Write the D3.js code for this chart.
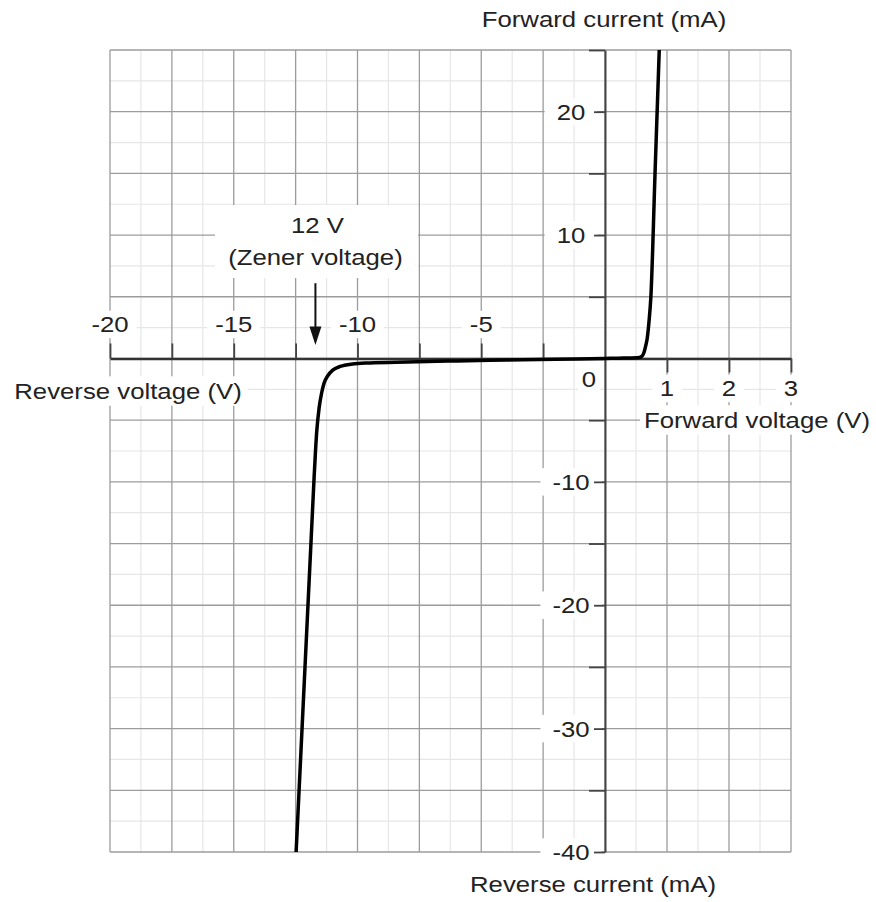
<!DOCTYPE html>
<html>
<head>
<meta charset="utf-8">
<script src="https://cdn.jsdelivr.net/npm/d3@7"></script>
<style>
  body { margin: 0; background: #fff; }
  text { font-family: "Liberation Sans", Arial, sans-serif; font-size: 23px; fill: #222; }
</style>
</head>
<body>
<div id="chart"></div>
<script>
// ---------------------------------------------------------------------------
// data (volts, milliamps), sorted by voltage
var voltage = [-12.48, -11.75, -11.65, -11.55, -11.45, -11.35, -11.2, -11.0, -10.7, -10.2, -9.5, -8, -6, -4, -2, 0,
               0.3, 0.55, 0.6, 0.63, 0.66, 0.68, 0.71, 0.74, 0.807, 0.875];
var current = [-40, -9.5, -6.0, -4.0, -2.8, -2.0, -1.4, -0.95, -0.65, -0.45, -0.36, -0.28, -0.2, -0.13, -0.06, 0,
               0.03, 0.08, 0.2, 0.5, 1.1, 1.6, 3, 5, 15, 25];

// grid and ticks
var xGridMajor = [-20, -17.5, -15, -12.5, -10, -7.5, -5, -2.5, 0, 1, 2, 3];
var xGridMinor = [-18.75, -16.25, -13.75, -11.25, -8.75, -6.25, -3.75, -1.25, 0.5, 1.5, 2.5];
var yGridMajor = [-40, -35, -30, -25, -20, -15, -10, -5, 0, 5, 10, 15, 20, 25];
var yGridMinor = [-37.5, -32.5, -27.5, -22.5, -17.5, -12.5, -7.5, -2.5, 2.5, 7.5, 12.5, 17.5, 22.5];
var xTicksNeg = [-20, -17.5, -15, -12.5, -10, -7.5, -5, -2.5];
var xTicksPos = [1, 2, 3];
var yTicks = [-40, -35, -30, -25, -20, -15, -10, -5, 5, 10, 15, 20, 25];
var xLabelsNeg = [-20, -15, -10, -5];
var xLabelsPos = [1, 2, 3];
var yLabels = [20, 10, -10, -20, -30, -40];
var zenerV = -11.7;

// ---------------------------------------------------------------------------
var width = 876, height = 902;
var stretch = 1.12;   // the lettering of the original is a bit wide

var svg = d3.select("#chart").append("svg")
    .attr("width", width)
    .attr("height", height);

// two different volt scales on each side of zero
var x = d3.scaleLinear().domain([-20, 0, 3]).range([110, 605, 791]);
var y = d3.scaleLinear().domain([-40, 25]).range([852, 50]);

// grid
var grid = svg.append("g");
grid.selectAll(".vmin").data(xGridMinor).enter().append("line")
    .attr("x1", d => x(d)).attr("x2", d => x(d)).attr("y1", y(-40)).attr("y2", y(25))
    .style("stroke", "#e6e6e6").style("stroke-width", 1.2);
grid.selectAll(".hmin").data(yGridMinor).enter().append("line")
    .attr("x1", x(-20)).attr("x2", x(3)).attr("y1", d => y(d)).attr("y2", d => y(d))
    .style("stroke", "#e6e6e6").style("stroke-width", 1.2);
grid.selectAll(".vmaj").data(xGridMajor).enter().append("line")
    .attr("x1", d => x(d)).attr("x2", d => x(d)).attr("y1", y(-40)).attr("y2", y(25))
    .style("stroke", "#9c9c9c").style("stroke-width", 1.3);
grid.selectAll(".hmaj").data(yGridMajor).enter().append("line")
    .attr("x1", x(-20)).attr("x2", x(3)).attr("y1", d => y(d)).attr("y2", d => y(d))
    .style("stroke", "#9c9c9c").style("stroke-width", 1.3);

// ---------------------------------------------------------------------------
// text with a white patch behind it
var labels = svg.append("g");
function add_label(txt, px, py, padX, padY)
{
  var t = labels.append("text")
      .attr("transform", "translate(" + px + "," + py + ") scale(" + stretch + ",1)")
      .attr("text-anchor", "middle")
      .text(txt);
  var b = t.node().getBBox();
  labels.insert("rect", function() { return t.node(); })
      .attr("transform", t.attr("transform"))
      .attr("x", b.x - padX / stretch).attr("y", b.y - padY)
      .attr("width", b.width + 2 * padX / stretch).attr("height", b.height + 2 * padY)
      .style("fill", "#fff");
  return t;
}

xLabelsNeg.forEach(function(v) { add_label(v, x(v), y(0) - 26, 8, 1); });
xLabelsPos.forEach(function(v) { add_label(v, x(v), y(0) + 38, 8, 1); });
yLabels.forEach(function(v) { add_label(v, 571, y(v) + 8, 12, 1); });
add_label("0", 589, y(0) + 29, 4, 1);

add_label("Forward current (mA)", 604, 27, 4, 2);
add_label("Reverse current (mA)", 593, 892, 4, 2);
add_label("Reverse voltage (V)", 128, 399, 6, 2);
add_label("Forward voltage (V)", 757, 428, 4, 2);

// zener note, one white box for both lines
var note = svg.append("g");
var noteBox = note.append("rect").style("fill", "#fff");
note.append("text").attr("transform", "translate(" + (x(zenerV) + 2) + ",233) scale(" + stretch + ",1)")
    .attr("text-anchor", "middle").text("12 V");
note.append("text").attr("transform", "translate(" + x(zenerV) + ",265) scale(" + stretch + ",1)")
    .attr("text-anchor", "middle").text("(Zener voltage)");
noteBox.attr("x", 215).attr("y", 205).attr("width", 203).attr("height", 73);

// arrow down to the knee
note.append("line")
    .attr("x1", x(zenerV)).attr("x2", x(zenerV))
    .attr("y1", y(6.1)).attr("y2", y(2))
    .style("stroke", "#111").style("stroke-width", 2);
note.append("path")
    .attr("d", "M" + (x(zenerV) - 6) + "," + y(2.6) + "L" + (x(zenerV) + 6) + "," + y(2.6) +
               "L" + x(zenerV) + "," + y(1.1) + "Z")
    .style("fill", "#111");

// ---------------------------------------------------------------------------
// axes through the origin
var xNeg = svg.append("g")
    .attr("transform", "translate(0," + y(0) + ")")
    .call(d3.axisTop(x).tickValues(xTicksNeg).tickSize(15).tickSizeOuter(0).tickFormat(""));
var xPos = svg.append("g")
    .attr("transform", "translate(0," + y(0) + ")")
    .call(d3.axisBottom(x).tickValues(xTicksPos).tickSize(14).tickSizeOuter(0).tickFormat(""));
xPos.select(".domain").remove();
xNeg.select(".domain").style("stroke", "#333").style("stroke-width", 2.5);

var yAxis = svg.append("g")
    .attr("transform", "translate(" + x(0) + ",0)")
    .call(d3.axisLeft(y).tickValues(yTicks).tickSize(16).tickSizeOuter(0).tickFormat(""));
yAxis.select(".domain").style("stroke", "#444").style("stroke-width", 2);
yAxis.selectAll(".tick line").attr("x2", d => (d % 10 === 0 ? -11 : -16));

svg.selectAll(".tick line").style("stroke", "#444").style("stroke-width", 1.8);

// ---------------------------------------------------------------------------
// the diode curve
var line = d3.line()
    .x(function(d, i) { return x(voltage[i]); })
    .y(function(d, i) { return y(current[i]); })
    .curve(d3.curveMonotoneX);

svg.append("path")
    .datum(voltage)
    .attr("d", line)
    .style("fill", "none")
    .style("stroke", "#000")
    .style("stroke-width", 3.5)
    .style("stroke-linejoin", "round");
</script>
</body>
</html>
